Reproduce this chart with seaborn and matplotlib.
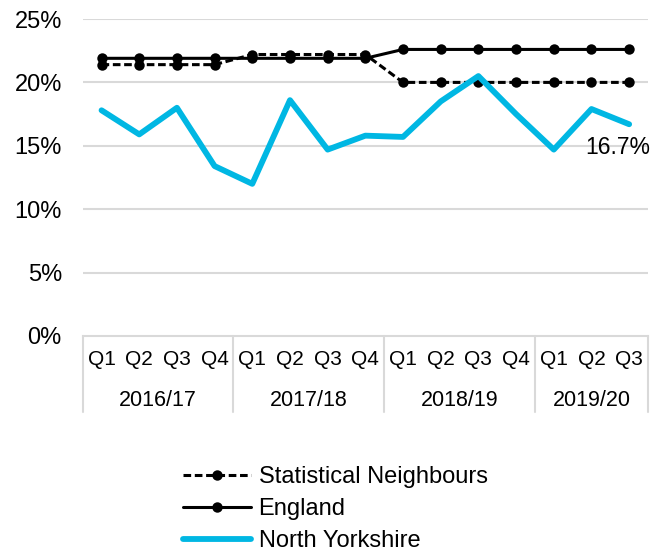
import matplotlib
matplotlib.use("Agg")
import matplotlib.pyplot as plt
import matplotlib.transforms as mtransforms
from matplotlib.ticker import FuncFormatter
import seaborn as sns
import pandas as pd
import numpy as np

quarters = ["Q1", "Q2", "Q3", "Q4", "Q1", "Q2", "Q3", "Q4", "Q1", "Q2", "Q3", "Q4", "Q1", "Q2", "Q3"]
years = ["2016/17", "2017/18", "2018/19", "2019/20"]
year_sizes = [4, 4, 4, 3]
stat_neighbours = [21.4, 21.4, 21.4, 21.4, 22.2, 22.2, 22.2, 22.2, 20.0, 20.0, 20.0, 20.0, 20.0, 20.0, 20.0]
england = [21.9, 21.9, 21.9, 21.9, 21.9, 21.9, 21.9, 21.9, 22.6, 22.6, 22.6, 22.6, 22.6, 22.6, 22.6]
north_yorkshire = [17.8, 15.9, 18.0, 13.4, 12.0, 18.6, 14.7, 15.8, 15.7, 18.5, 20.5, 17.5, 14.7, 17.9, 16.7]
y_ticks = [0, 5, 10, 15, 20, 25]

sns.set_style("white")
plt.rcParams["font.family"] = ["Liberation Sans", "DejaVu Sans"]
plt.rcParams["text.color"] = "black"
plt.rcParams["xtick.color"] = "black"
plt.rcParams["ytick.color"] = "black"

W, H = 664, 552
fig = plt.figure(figsize=(W / 100, H / 100), dpi=100)
left, right, top, bottom = 82.7, 648, 19, 336
ax = fig.add_axes([left / W, 1 - bottom / H, (right - left) / W, (bottom - top) / H])

idx = np.arange(len(quarters))
df = pd.DataFrame({"x": idx, "sn": stat_neighbours, "eng": england, "ny": north_yorkshire})

grid_c = "#d9d9d9"
for t in y_ticks[1:]:
    ax.axhline(t, color=grid_c, lw=1.5, zorder=0)

sns.lineplot(data=df, x="x", y="sn", ax=ax, color="black", lw=2.2, linestyle=(0, (2.5, 1.2)),
             marker="o", markersize=7.5, markeredgewidth=0, label="Statistical Neighbours", zorder=3)
sns.lineplot(data=df, x="x", y="eng", ax=ax, color="black", lw=2.2,
             marker="o", markersize=7.5, markeredgewidth=0, label="England", zorder=3)
sns.lineplot(data=df, x="x", y="ny", ax=ax, color="#00B7E3", lw=4.2,
             label="North Yorkshire", zorder=4)

ax.set_xlim(-0.5, len(quarters) - 0.5)
ax.set_ylim(0, 25)
ax.set_yticks(y_ticks)
ax.yaxis.set_major_formatter(FuncFormatter(lambda v, p: f"{v:.0f}%"))
ax.tick_params(axis="y", labelsize=17, pad=15, length=0, labelcolor="black")
ax.set_xticks(idx)
ax.set_xticklabels(quarters)
ax.tick_params(axis="x", labelsize=15, pad=10, length=0, labelcolor="black")
ax.set_xlabel("")
ax.set_ylabel("")
for s in ["top", "right", "left"]:
    ax.spines[s].set_visible(False)
ax.spines["bottom"].set_color(grid_c)
ax.spines["bottom"].set_linewidth(1.5)

trans = mtransforms.blended_transform_factory(ax.transData, ax.transAxes)
sep_depth = (412 - bottom) / (bottom - top)
year_y = -(400 - bottom) / (bottom - top)
b = -0.5
ax.plot([b, b], [0, -sep_depth], transform=trans, color=grid_c, lw=1.5, clip_on=False)
for yr, n in zip(years, year_sizes):
    ax.text(b + n / 2, year_y, yr, transform=trans, ha="center", va="center", fontsize=15.5,
            color="black")
    b += n
    ax.plot([b, b], [0, -sep_depth], transform=trans, color=grid_c, lw=1.5, clip_on=False)

ax.annotate(f"{north_yorkshire[-1]:.1f}%", xy=(idx[-1], north_yorkshire[-1]),
            xytext=(-8, -16.5), textcoords="offset points", ha="center", va="center",
            fontsize=16.5, color="black")

handles, labels = ax.get_legend_handles_labels()
leg = ax.legend(handles, labels, loc="upper left", bbox_to_anchor=(183 / W, 1 - 466 / H),
                bbox_transform=fig.transFigure, frameon=False, fontsize=17, handlelength=2.9,
                handletextpad=0.3, labelspacing=0.42, borderpad=0, borderaxespad=0)
for t in leg.get_texts():
    t.set_color("black")

fig.savefig("out.png", dpi=100)
